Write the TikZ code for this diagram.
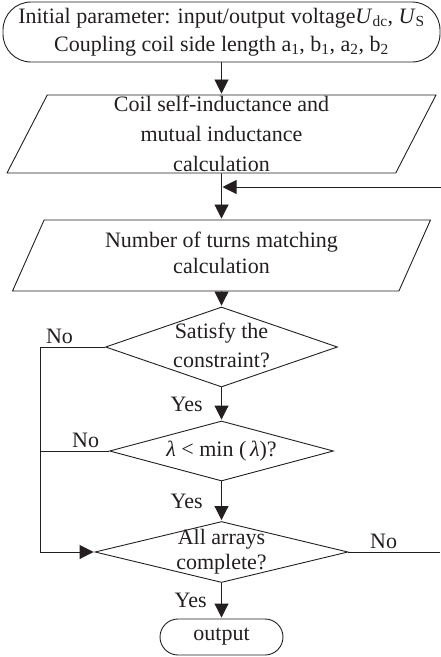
\documentclass[tikz,border=0pt]{standalone}
\usepackage{fontspec}
\setmainfont{Liberation Serif}
\usepackage{xcolor}
\usetikzlibrary{positioning,arrows.meta,shapes.geometric}

\definecolor{ink}{HTML}{231F20}
\tikzset{
  terminal/.style={draw, rectangle, rounded corners=#1, inner sep=0pt, align=center},
  io/.style={draw, trapezium, trapezium stretches body=true, inner sep=0pt, align=center},
  decision/.style={draw, diamond, aspect=3, inner sep=0pt, align=center},
  flow/.style={-{Triangle[length=14pt,width=14pt]}}
}

\begin{document}
\begin{tikzpicture}[shorten >=1pt,on grid,line width=0.9pt,color=ink,
    font=\fontsize{22}{30}\selectfont]
    \useasboundingbox (0,0) rectangle (441pt,-657pt);

    \node[terminal=28pt, minimum width=437pt, minimum height=60pt] (init) at (221.5pt,-32pt)
      {Initial parameter: input/output voltage\textit{U}\textsubscript{dc}, \textit{U}\textsubscript{S}\\[-2pt]
       Coupling coil side length a\textsubscript{1}, b\textsubscript{1}, a\textsubscript{2}, b\textsubscript{2}};
    \node[io, trapezium left angle=62, trapezium right angle=118, minimum width=429pt, minimum height=78pt]
      (coil) [below=102pt of init] {Coil self-inductance and\\mutual inductance\\calculation};
    \node[io, trapezium left angle=66, trapezium right angle=114, minimum width=418pt, minimum height=71pt,
      text height=53.5pt, text depth=17.5pt]
      (turns) [below=121.5pt of coil] {Number of turns matching\\[-4pt]calculation};
    \node[decision, minimum width=232pt, minimum height=80pt, text height=40pt, text depth=0pt]
      (check) [below=91.5pt of turns] {Satisfy the\\[-1pt]constraint?};
    \node[decision, minimum width=224pt, minimum height=60pt, text height=10pt, text depth=0pt]
      (ratio) [below=104pt of check] {\textit{λ} < min (\,\textit{λ})?};
    \node[decision, aspect=4, minimum width=253pt, minimum height=61pt, text height=35pt, text depth=0pt]
      (done) [below=101pt of ratio] {All arrays\\[-5pt]complete?};
    \node[terminal=18pt, minimum width=123pt, minimum height=36pt]
      (out) [below=85pt of done] {output};

    \coordinate (back) at (441pt,-187pt);
    \coordinate (side) at (40pt,0);
    \coordinate (away) at (441pt,0);

    \path[flow]
    (init) edge (coil)
    (coil) edge (turns)
    (turns) edge (check)
    (check) edge node[left=15pt] {Yes} (ratio)
    (ratio) edge node[left=15pt] {Yes} (done)
    (done) edge node[left=11pt] {Yes} (out);

    \draw[flow] (back) -- (back -| coil.south);
    \draw[flow] (check.west) -- node[above, pos=0.7] {No} (check.west -| side) |- (done.west);
    \draw (ratio.west) -- node[above, pos=0.34] {No} (ratio.west -| side);
    \draw (done.east) -- node[above, pos=0.38] {No} (done.east -| away);
\end{tikzpicture}
\end{document}
